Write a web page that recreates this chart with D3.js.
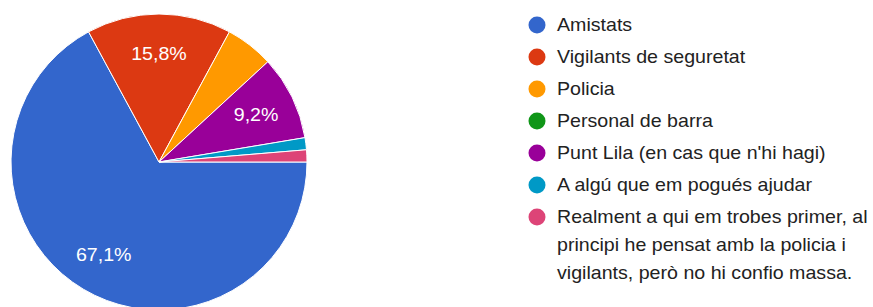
<!DOCTYPE html>
<html>
<head>
    <script src="https://cdnjs.cloudflare.com/ajax/libs/d3/7.8.5/d3.min.js"></script>
    <style>
        body { margin: 0; background: #fff; }
        svg { display: block; }
        .legend text {
            font-family: Arial, "Liberation Sans", sans-serif;
            font-size: 18px;
            fill: #222;
        }
        .label {
            font-family: Arial, "Liberation Sans", sans-serif;
            font-size: 18px;
            fill: #fff;
        }
    </style>
</head>
<body>
    <div id="chart"></div>
    <script>
        const width = 873, height = 307;

        const categories = [
            "Amistats",
            "Vigilants de seguretat",
            "Policia",
            "Personal de barra",
            "Punt Lila (en cas que n'hi hagi)",
            "A algú que em pogués ajudar",
            "Realment a qui em trobes primer, al principi he pensat amb la policia i vigilants, però no hi confio massa."
        ];
        // legend lines as they wrap in the picture
        const legendLines = [
            ["Amistats"],
            ["Vigilants de seguretat"],
            ["Policia"],
            ["Personal de barra"],
            ["Punt Lila (en cas que n'hi hagi)"],
            ["A algú que em pogués ajudar"],
            ["Realment a qui em trobes primer, al", "principi he pensat amb la policia i", "vigilants, però no hi confio massa."]
        ];
        const counts = [51, 12, 4, 0, 7, 1, 1];
        const colors = ["#3366cc", "#dc3912", "#ff9900", "#109618", "#990099", "#0099c6", "#dd4477"];

        const svg = d3.select("#chart").append("svg").attr("width", width).attr("height", height);

        const cx = 159, cy = 162, r = 148;
        const total = d3.sum(counts);
        const stretch = 1.09; // text in the picture is a bit wider than Arial

        const pie = d3.pie().sort(null).value(d => d)
            .startAngle(Math.PI / 2).endAngle(Math.PI / 2 + 2 * Math.PI);
        const arcs = pie(counts);

        const arc = d3.arc().innerRadius(0).outerRadius(r);
        const labelArc = d3.arc().innerRadius(r * 0.73).outerRadius(r * 0.73);

        const g = svg.append("g").attr("transform", `translate(${cx},${cy})`);

        g.selectAll("path")
            .data(arcs.filter(d => d.value > 0))
            .enter().append("path")
            .attr("d", arc)
            .attr("fill", d => colors[d.index])
            .attr("stroke", "#fff")
            .attr("stroke-width", 1);

        const fmt = v => (Math.round(v * 1000) / 10).toFixed(1).replace(".", ",") + "%";

        g.selectAll("text.label")
            .data(arcs.filter(d => d.value / total > 0.08))
            .enter().append("text")
            .attr("class", "label")
            .attr("transform", d => `translate(${labelArc.centroid(d)}) scale(${stretch},1)`)
            .attr("text-anchor", "middle")
            .attr("dy", "0.36em")
            .text(d => fmt(d.value / total));

        const legend = svg.append("g").attr("class", "legend");
        let y = 25;
        legendLines.forEach((lines, i) => {
            const item = legend.append("g");
            item.append("circle")
                .attr("cx", 537).attr("cy", y)
                .attr("r", 8.5)
                .attr("fill", colors[i]);
            lines.forEach((line, j) => {
                item.append("text")
                    .attr("transform", `translate(557,${y + j * 28}) scale(${stretch},1)`)
                    .attr("dy", "0.36em")
                    .text(line);
            });
            y += 32;
        });
    </script>
</body>
</html>
